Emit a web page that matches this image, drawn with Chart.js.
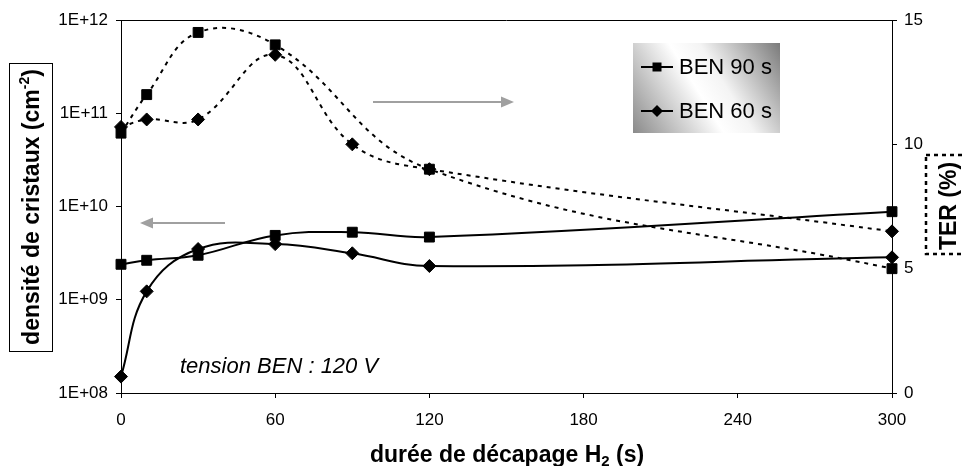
<!DOCTYPE html>
<html>
<head>
<meta charset="utf-8">
<script src="https://cdn.jsdelivr.net/npm/chart.js@4.4.0/dist/chart.umd.min.js"></script>
<style>
  body { margin: 0; background: #fff; }
  #wrap { width: 963px; height: 466px; }
</style>
</head>
<body>
<div id="wrap"><canvas id="myChart" width="963" height="466"></canvas></div>
<script>
const ctx = document.getElementById('myChart').getContext('2d');

// series names (legend)
const seriesNames = ['BEN 90 s', 'BEN 60 s'];

// x values, durée de décapage H2 (s)
const xDensity90 = [0, 10, 30, 60, 90, 120, 300];
const xDensity60 = [0, 10, 30, 60, 90, 120, 300];
const xTer90 = [0, 10, 30, 60, 120, 300];
const xTer60 = [0, 10, 30, 60, 90, 120, 300];

// densité de cristaux (cm-2), left axis
const density90 = [2.4e9, 2.65e9, 3.0e9, 4.9e9, 5.3e9, 4.7e9, 8.8e9];
const density60 = [1.5e8, 1.23e9, 3.5e9, 3.95e9, 3.15e9, 2.3e9, 2.85e9];

// TER (%), right axis
const ter90 = [10.45, 12.0, 14.5, 14.0, 9.0, 5.0];
const ter60 = [10.7, 11.0, 11.0, 13.6, 10.0, 9.0, 6.5];

// tick labels
const leftTicks = ['1E+08', '1E+09', '1E+10', '1E+11', '1E+12'];
const rightTicks = [0, 5, 10, 15];
const xTicks = [0, 60, 120, 180, 240, 300];

const toXY = (xs, ys) => xs.map((x, i) => ({ x: x, y: ys[i] }));

const FONT = "'Liberation Sans', Arial, sans-serif";

const lineStyle = (solid, style) => ({
    borderColor: '#000',
    backgroundColor: '#000',
    borderWidth: 2,
    borderDash: solid ? [] : [4, 5],
    pointStyle: style,
    pointRadius: style === 'rect' ? 7 : 6.5,
    pointBorderWidth: 1,
    pointBorderColor: '#000',
    pointBackgroundColor: '#000',
    tension: 0.4,
    fill: false,
    clip: false
});

const data = {
    datasets: [
        Object.assign({ label: seriesNames[0] + ' TER', data: toXY(xTer90, ter90), yAxisID: 'yR' }, lineStyle(false, 'rect')),
        Object.assign({ label: seriesNames[1] + ' TER', data: toXY(xTer60, ter60), yAxisID: 'yR' }, lineStyle(false, 'rectRot')),
        Object.assign({ label: seriesNames[0], data: toXY(xDensity90, density90), yAxisID: 'yL' }, lineStyle(true, 'rect')),
        Object.assign({ label: seriesNames[1], data: toXY(xDensity60, density60), yAxisID: 'yL' }, lineStyle(true, 'rectRot'))
    ]
};

// draw a line of text made of runs (for sub / superscripts), centred on x
function drawRuns(c, runs, x, y) {
    let total = 0;
    runs.forEach(r => { c.font = r.font; r.w = c.measureText(r.t).width; total += r.w; });
    let cx = x - total / 2;
    runs.forEach(r => {
        c.font = r.font;
        c.fillText(r.t, cx, y + (r.dy || 0));
        cx += r.w;
    });
}

function arrow(c, x1, x2, y) {
    const dir = x2 > x1 ? 1 : -1;
    c.save();
    c.strokeStyle = '#a0a0a0';
    c.fillStyle = '#a0a0a0';
    c.lineWidth = 2;
    c.beginPath();
    c.moveTo(x1, y);
    c.lineTo(x2 - dir * 10, y);
    c.stroke();
    c.beginPath();
    c.moveTo(x2, y);
    c.lineTo(x2 - dir * 13, y - 5.5);
    c.lineTo(x2 - dir * 13, y + 5.5);
    c.closePath();
    c.fill();
    c.restore();
}

const extras = {
    id: 'extras',
    afterDraw(chart) {
        const c = chart.ctx;
        const a = chart.chartArea;
        c.save();

        // top frame line
        c.strokeStyle = '#000';
        c.lineWidth = 1;
        c.beginPath();
        c.moveTo(a.left, Math.round(a.top) + 0.5);
        c.lineTo(a.right, Math.round(a.top) + 0.5);
        c.stroke();

        // arrows
        arrow(c, 225, 140, 223);
        arrow(c, 373, 514, 102);

        // annotation
        c.fillStyle = '#000';
        c.textBaseline = 'alphabetic';
        c.textAlign = 'left';
        c.font = 'italic 22px ' + FONT;
        c.fillText('tension BEN : 120 V', 180, 373);

        // legend box with gradient
        const lx = 633, ly = 43, lw = 147, lh = 90;
        const g = c.createLinearGradient(lx, ly + lh, lx + lw, ly);
        g.addColorStop(0, '#8a8a8a');
        g.addColorStop(0.45, '#ffffff');
        g.addColorStop(0.6, '#f4f4f4');
        g.addColorStop(1, '#7a7a7a');
        c.fillStyle = g;
        c.fillRect(lx, ly, lw, lh);

        c.strokeStyle = '#000';
        c.fillStyle = '#000';
        c.lineWidth = 2;
        c.font = '22px ' + FONT;
        c.textBaseline = 'middle';
        seriesNames.forEach((name, i) => {
            const yy = 67 + i * 44;
            c.beginPath();
            c.moveTo(641, yy);
            c.lineTo(673, yy);
            c.stroke();
            c.beginPath();
            if (i === 0) {
                c.rect(652.5, yy - 4.5, 9, 9);
            } else {
                c.moveTo(657, yy - 6);
                c.lineTo(663, yy);
                c.lineTo(657, yy + 6);
                c.lineTo(651, yy);
                c.closePath();
            }
            c.fill();
            c.fillText(name, 679, yy + 1);
        });

        // left axis title in a box
        c.lineWidth = 1;
        c.strokeRect(9.5, 63.5, 43, 288);
        c.save();
        c.translate(32, 207);
        c.rotate(-Math.PI / 2);
        c.textBaseline = 'middle';
        drawRuns(c, [
            { t: 'densité de cristaux (cm', font: 'bold 23px ' + FONT },
            { t: '-2', font: 'bold 14px ' + FONT, dy: -8 },
            { t: ')', font: 'bold 23px ' + FONT }
        ], 0, 1);
        c.restore();

        // right axis title in a dotted box
        c.save();
        c.lineWidth = 2.5;
        c.setLineDash([4, 4]);
        c.strokeRect(926, 155, 48, 99);
        c.restore();
        c.save();
        c.translate(949, 206);
        c.rotate(-Math.PI / 2);
        c.textBaseline = 'middle';
        drawRuns(c, [{ t: 'TER (%)', font: 'bold 23px ' + FONT }], 0, 1);
        c.restore();

        // x axis title
        c.textBaseline = 'middle';
        drawRuns(c, [
            { t: 'durée de décapage H', font: 'bold 23px ' + FONT },
            { t: '2', font: 'bold 15px ' + FONT, dy: 6 },
            { t: ' (s)', font: 'bold 23px ' + FONT }
        ], 507, 456);

        c.restore();
    }
};

const tickFont = { family: FONT, size: 17 };

const config = {
    type: 'line',
    data: data,
    options: {
        responsive: false,
        animation: false,
        events: [],
        layout: { padding: { top: 20, left: 0, right: 0, bottom: 0 } },
        plugins: {
            legend: { display: false },
            tooltip: { enabled: false }
        },
        scales: {
            x: {
                type: 'linear',
                position: 'bottom',
                min: 0,
                max: 300,
                afterBuildTicks: s => { s.ticks = xTicks.map(v => ({ value: v })); },
                afterFit: s => { s.height = 73; },
                ticks: { color: '#000', font: tickFont, padding: 12, maxRotation: 0 },
                grid: { drawOnChartArea: false, tickLength: 5, color: '#000' },
                border: { color: '#000', width: 1 }
            },
            yL: {
                type: 'logarithmic',
                position: 'left',
                min: Number(leftTicks[0]),
                max: Number(leftTicks[leftTicks.length - 1]),
                afterBuildTicks: s => { s.ticks = leftTicks.map(t => ({ value: Number(t) })); },
                afterFit: s => { s.width = 121; },
                ticks: {
                    color: '#000',
                    font: tickFont,
                    padding: 8,
                    callback: v => leftTicks.find(t => Number(t) === v) || ''
                },
                grid: { drawOnChartArea: false, tickLength: 5, color: '#000' },
                border: { color: '#000', width: 1 }
            },
            yR: {
                type: 'linear',
                position: 'right',
                min: rightTicks[0],
                max: rightTicks[rightTicks.length - 1],
                afterBuildTicks: s => { s.ticks = rightTicks.map(v => ({ value: v })); },
                afterFit: s => { s.width = 71; },
                ticks: { color: '#000', font: tickFont, padding: 7 },
                grid: { drawOnChartArea: false, tickLength: 5, color: '#000' },
                border: { color: '#000', width: 1 }
            }
        }
    },
    plugins: [extras]
};

const myChart = new Chart(ctx, config);
</script>
</body>
</html>
